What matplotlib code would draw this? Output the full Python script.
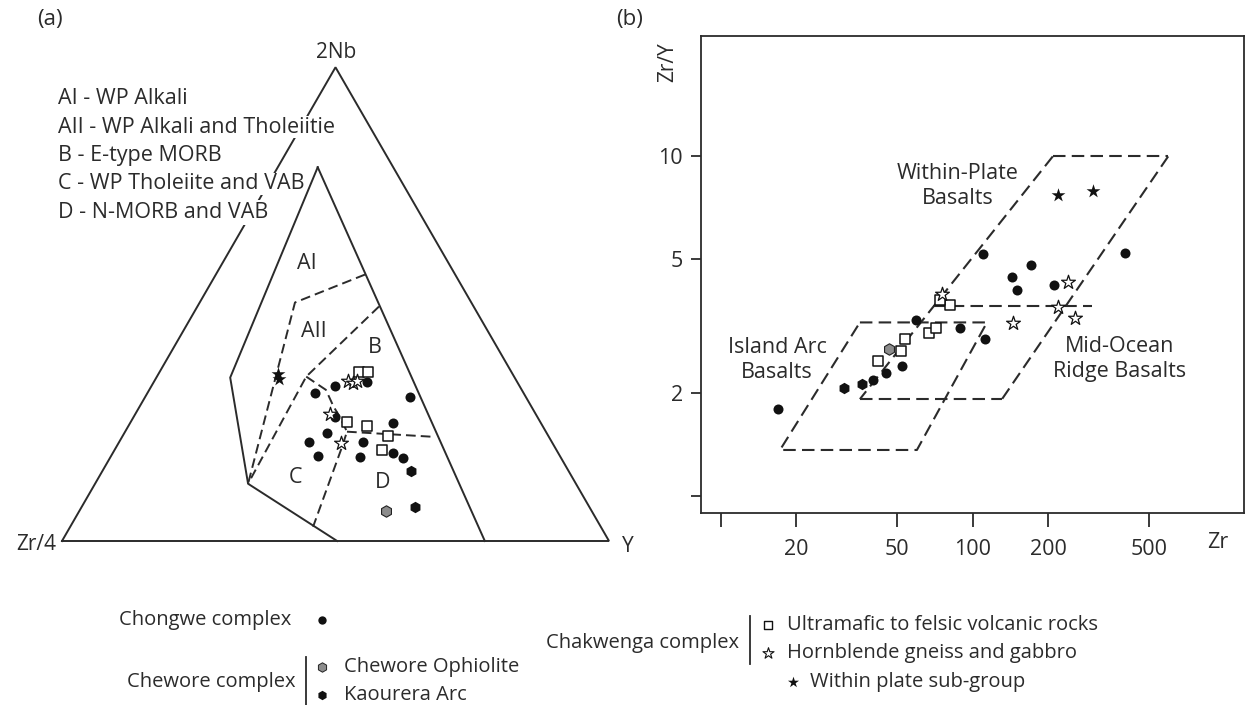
import numpy as np
import matplotlib
matplotlib.use("Agg")
import matplotlib.pyplot as plt
from matplotlib.ticker import FixedLocator, FixedFormatter, NullLocator

plt.rcParams['font.family'] = ['Open Sans', 'DejaVu Sans']

W, H = 1247, 705
INK = '#2b2b2b'

# ---------------- (a) Zr/4 - 2Nb - Y  (percent: Zr/4, 2Nb, Y) ----------------
chongwe_t = [(33.7, 32.8, 33.5), (38.1, 31.3, 30.6), (27.4, 33.6, 39.0), (21.2, 30.5, 48.4),
             (37.0, 26.2, 36.8), (27.0, 25.0, 48.0), (40.1, 22.8, 37.0), (44.4, 20.9, 34.7),
             (34.5, 20.9, 44.6), (44.2, 18.0, 37.8), (36.6, 17.8, 45.6), (30.2, 18.6, 51.2),
             (28.9, 17.6, 53.5)]
kaourera_t = [(28.8, 14.8, 56.4), (31.9, 7.2, 60.9)]
ophiolite_t = [(37.6, 6.3, 56.1)]
ultramafic_t = [(27.8, 35.7, 36.4), (26.2, 35.7, 38.1), (35.3, 25.2, 39.5), (32.0, 24.3, 43.6),
                (29.3, 22.2, 48.5), (31.9, 19.3, 48.9)]
hornblende_t = [(30.8, 33.8, 35.4), (30.1, 33.4, 36.5), (29.2, 33.8, 37.0), (37.6, 26.9, 35.6),
                (38.6, 20.7, 40.6)]
withinplate_t = [(42.9, 35.3, 21.8), (43.3, 34.1, 22.6)]

# field boundaries of the Zr/4-2Nb-Y diagram
field_solid = [
    [(13.8, 78.9, 7.3), (22.7, 0.0, 77.3)],
    [(13.8, 78.9, 7.3), (52.0, 34.5, 13.5), (60.0, 12.1, 28.0), (49.7, 0.0, 50.3)],
]
field_dashed = [
    [(16.5, 56.3, 27.3), (32.2, 50.3, 17.4), (60.0, 12.1, 28.0)],
    [(17.3, 49.5, 33.2), (38.0, 34.7, 27.3), (60.0, 12.1, 28.0)],
    [(38.0, 34.7, 27.3), (35.8, 31.9, 32.3), (36.1, 28.3, 35.4), (36.1, 26.2, 37.7),
     (36.4, 23.1, 40.6), (38.9, 19.9, 41.3), (52.6, 3.0, 44.4)],
    [(36.4, 23.1, 40.6), (21.2, 22.0, 56.8)],
]
field_names = ['AI', 'AII', 'B', 'C', 'D']
field_label_at = [(25.9, 58.6, 15.5), (31.8, 44.2, 24.0), (22.4, 40.8, 36.8),
                  (50.6, 13.5, 35.9), (35.2, 12.3, 52.5)]
field_key = ['AI - WP Alkali', 'AII - WP Alkali and Tholeiitie', 'B - E-type MORB',
             'C - WP Tholeiite and VAB', 'D - N-MORB and VAB']

# ---------------- (b) Zr/Y vs Zr ----------------
chongwe_zr = [110.3, 170.5, 143, 149.6, 211, 402.6, 59.6, 89.1, 112, 52.3, 45.3, 40.4, 16.9]
chongwe_zry = [5.16, 4.80, 4.42, 4.04, 4.17, 5.20, 3.29, 3.13, 2.89, 2.41, 2.30, 2.19, 1.80]
kaourera_zr = [36.3, 30.9]
kaourera_zry = [2.14, 2.08]
ophiolite_zr = [46.6]
ophiolite_zry = [2.71]
ultramafic_zr = [42.3, 52.0, 53.9, 67.3, 71.4, 81.3, 74.0]
ultramafic_zry = [2.49, 2.67, 2.90, 3.02, 3.13, 3.65, 3.77]
hornblende_zr = [75.4, 238.5, 217.6, 254.9, 145]
hornblende_zry = [3.92, 4.26, 3.60, 3.35, 3.22]
withinplate_zr = [217.6, 301]
withinplate_zry = [7.72, 7.89]

zr_fields = [
    [(208, 10), (597, 10)],
    [(208, 10), (35.7, 1.925)],
    [(597, 10), (130.8, 1.925)],
    [(69.6, 3.61), (298, 3.61)],
    [(35.7, 1.925), (130.8, 1.925)],
    [(35.7, 3.24), (114, 3.24), (60.1, 1.363), (17.2, 1.363), (35.7, 3.24)],
]

x_ticks = [10, 20, 50, 100, 200, 500]
x_ticklabels = ['', '20', '50', '100', '200', '500']
y_ticks = [1, 2, 5, 10]
y_ticklabels = ['', '2', '5', '10']


def tern_xy(comp):
    c = np.asarray(comp, float)
    c = c / c.sum(axis=1, keepdims=True)
    return c[:, 2] + 0.5 * c[:, 1], np.sqrt(3) / 2 * c[:, 1]


def fx(px):
    return px / W


def fy(py):
    return 1 - py / H


fig = plt.figure(figsize=(W / 100, H / 100), dpi=100)
fig.patch.set_facecolor('white')

# ---- ternary panel: 547 px per unit side, Zr/4 corner at pixel (62, 541)
S, X0, Y0 = 547.0, 62.0, 541.0
axa = fig.add_axes([0, 0, 640 / W, 1])
axa.set_xlim(-X0 / S, (640 - X0) / S)
axa.set_ylim((Y0 - H) / S, Y0 / S)
axa.axis('off')

tri = np.array([[0, 0], [1, 0], [0.5, np.sqrt(3) / 2], [0, 0]])
axa.plot(tri[:, 0], tri[:, 1], color=INK, lw=1.4, zorder=2, solid_joinstyle='miter')
for seg in field_solid:
    x, y = tern_xy(seg)
    axa.plot(x, y, color=INK, lw=1.4, zorder=2)
for seg in field_dashed:
    x, y = tern_xy(seg)
    axa.plot(x, y, color=INK, lw=1.4, ls=(0, (5.0, 2.6)), zorder=2)

for name, pos in zip(field_names, field_label_at):
    x, y = tern_xy([pos])
    axa.text(x[0], y[0], name, fontsize=15.5, color=INK, ha='center', va='center')

MS = 52


def draw_points(ax, x, y, kind):
    if kind == 'chongwe':
        ax.scatter(x, y, s=MS, marker='o', color='#111111', zorder=5, linewidths=0)
    elif kind == 'kaourera':
        ax.scatter(x, y, s=MS * 1.3, marker='h', color='#111111', zorder=5, linewidths=0)
    elif kind == 'ophiolite':
        ax.scatter(x, y, s=MS * 1.3, marker='h', facecolor='#8c8c8c', edgecolor='#222222',
                   linewidths=0.8, zorder=5)
    elif kind == 'ultramafic':
        ax.scatter(x, y, s=MS * 1.0, marker='s', facecolor='white', edgecolor='#111111',
                   linewidths=1.1, zorder=6)
    elif kind == 'hornblende':
        ax.scatter(x, y, s=MS * 2.1, marker='*', facecolor='white', edgecolor='#111111',
                   linewidths=0.9, zorder=6)
    elif kind == 'withinplate':
        ax.scatter(x, y, s=MS * 2.1, marker='*', color='#111111', zorder=6, linewidths=0)


for data, kind in [(chongwe_t, 'chongwe'), (kaourera_t, 'kaourera'), (ophiolite_t, 'ophiolite'),
                   (ultramafic_t, 'ultramafic'), (hornblende_t, 'hornblende'),
                   (withinplate_t, 'withinplate')]:
    x, y = tern_xy(data)
    draw_points(axa, x, y, kind)

# corner labels and panel tag
fig.text(fx(336), fy(53), '2Nb', fontsize=15, color=INK, ha='center', va='center')
fig.text(fx(36), fy(545), 'Zr/4', fontsize=15, color=INK, ha='center', va='center')
fig.text(fx(628), fy(547), 'Y', fontsize=15, color=INK, ha='center', va='center')
fig.text(fx(50), fy(19), '(a)', fontsize=16, color=INK, ha='center', va='center')

# key of field names; white boxes break the triangle edge behind the text
key_pads = [0.3, 0.3, 0.3, 0.3, 1.4]
for i, t in enumerate(field_key):
    fig.text(fx(58), fy(99 + 28.3 * i), t, fontsize=15.5, color=INK, ha='left', va='center',
             bbox=dict(facecolor='white', edgecolor='none', pad=key_pads[i]))

# ---- Zr/Y vs Zr panel
axb = fig.add_axes([fx(700.7), fy(512.6), (1244.3 - 700.7) / W, (512.6 - 35.9) / H])
axb.set_xscale('log')
axb.set_yscale('log')
axb.set_xlim(8.335, 1197)
axb.set_ylim(0.891, 22.66)
for sp in axb.spines.values():
    sp.set_color(INK)
    sp.set_linewidth(1.3)
axb.xaxis.set_major_locator(FixedLocator(x_ticks))
axb.xaxis.set_major_formatter(FixedFormatter(x_ticklabels))
axb.xaxis.set_minor_locator(NullLocator())
axb.yaxis.set_major_locator(FixedLocator(y_ticks))
axb.yaxis.set_major_formatter(FixedFormatter(y_ticklabels))
axb.yaxis.set_minor_locator(NullLocator())
axb.tick_params(axis='x', direction='out', length=10, width=1.3, color=INK, pad=9,
                labelsize=15.5, labelcolor=INK)
axb.tick_params(axis='y', direction='out', length=7, width=1.3, color=INK, pad=6,
                labelsize=15.5, labelcolor=INK)

for seg in zr_fields:
    xs, ys = zip(*seg)
    axb.plot(xs, ys, color=INK, lw=1.5, ls=(0, (6.0, 3.0)), zorder=2)

for xs, ys, kind in [(chongwe_zr, chongwe_zry, 'chongwe'), (kaourera_zr, kaourera_zry, 'kaourera'),
                     (ophiolite_zr, ophiolite_zry, 'ophiolite'),
                     (ultramafic_zr, ultramafic_zry, 'ultramafic'),
                     (hornblende_zr, hornblende_zry, 'hornblende'),
                     (withinplate_zr, withinplate_zry, 'withinplate')]:
    draw_points(axb, xs, ys, kind)

fig.text(fx(958), fy(186), 'Within-Plate\nBasalts', fontsize=15.5, color=INK, ha='center',
         va='center', linespacing=1.2)
fig.text(fx(777), fy(360), 'Island Arc\nBasalts', fontsize=15.5, color=INK, ha='center',
         va='center', linespacing=1.2)
fig.text(fx(1120), fy(359), 'Mid-Ocean\nRidge Basalts', fontsize=15.5, color=INK, ha='center',
         va='center', linespacing=1.2)
fig.text(fx(668), fy(62), 'Zr/Y', fontsize=15, color=INK, ha='center', va='center', rotation=90)
fig.text(fx(1218), fy(543), 'Zr', fontsize=15.5, color=INK, ha='center', va='center')
fig.text(fx(630), fy(19), '(b)', fontsize=16, color=INK, ha='center', va='center')

# ---- legend along the bottom (pixel overlay)
axo = fig.add_axes([0, 0, 1, 1])
axo.set_xlim(0, W)
axo.set_ylim(H, 0)
axo.axis('off')
axo.patch.set_alpha(0)

LS = 14.5
axo.text(119, 620, 'Chongwe complex', fontsize=LS, color=INK, ha='left', va='center')
axo.scatter([322], [620], s=36, marker='o', color='#111111', linewidths=0)

axo.text(127, 682, 'Chewore complex', fontsize=LS, color=INK, ha='left', va='center')
axo.plot([306, 306], [657, 705], color=INK, lw=1.3)
axo.scatter([322], [667], s=46, marker='h', facecolor='#8c8c8c', edgecolor='#222222', linewidths=0.7)
axo.text(344, 667, 'Chewore Ophiolite', fontsize=LS, color=INK, ha='left', va='center')
axo.scatter([322], [695], s=46, marker='h', color='#111111', linewidths=0)
axo.text(344, 695, 'Kaourera Arc', fontsize=LS, color=INK, ha='left', va='center')

axo.text(546, 643, 'Chakwenga complex', fontsize=LS, color=INK, ha='left', va='center')
axo.plot([750, 750], [616, 664], color=INK, lw=1.3)
axo.scatter([768], [625], s=38, marker='s', facecolor='white', edgecolor='#111111', linewidths=1.0)
axo.text(787, 625, 'Ultramafic to felsic volcanic rocks', fontsize=LS, color=INK, ha='left', va='center')
axo.scatter([768], [653], s=70, marker='*', facecolor='white', edgecolor='#111111', linewidths=0.8)
axo.text(787, 653, 'Hornblende gneiss and gabbro', fontsize=LS, color=INK, ha='left', va='center')
axo.scatter([793], [682], s=70, marker='*', color='#111111', linewidths=0)
axo.text(810, 682, 'Within plate sub-group', fontsize=LS, color=INK, ha='left', va='center')

fig.savefig('out.png', dpi=100, facecolor='white')
